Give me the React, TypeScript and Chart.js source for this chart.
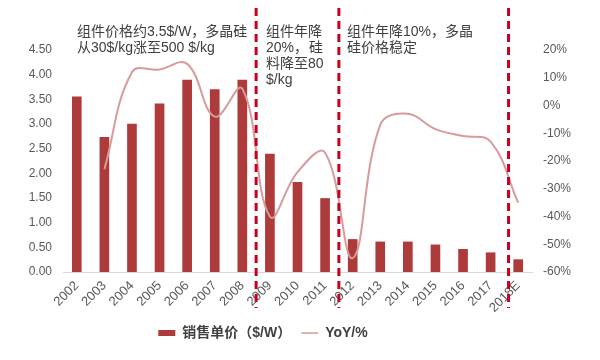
import React, { useEffect, useRef } from "react";
import { Chart, registerables } from "chart.js";

Chart.register(...registerables);

const categories = ["2002", "2003", "2004", "2005", "2006", "2007", "2008", "2009", "2010", "2011", "2012", "2013", "2014", "2015", "2016", "2017", "2018E"];
const priceValues = [3.55, 2.73, 3.0, 3.41, 3.89, 3.7, 3.89, 2.39, 1.82, 1.49, 0.66, 0.61, 0.61, 0.55, 0.46, 0.39, 0.25];
const yoyValues = [null, -23, 12, 13, 15, -4, 6, -40, -24, -17, -55, -7, -3, -8.5, -11, -13, -35];
const leftTicks = [0, 0.5, 1, 1.5, 2, 2.5, 3, 3.5, 4, 4.5];
const rightTicks = [-60, -50, -40, -30, -20, -10, 0, 10, 20];
const seriesNames = ["销售单价（$/W）", "YoY/%"];
const dividers = [6.5, 9.5, 15.65];
const notes = [
  { lines: ["组件价格约3.5$/W，多晶硅", "从30$/kg涨至500 $/kg"] },
  { lines: ["组件年降", "20%，", "料降至80", "$/kg"] },
  { lines: ["组件年降10%，多晶", "硅价格稳定"] },
];

const FONT = '"Liberation Sans", "Noto Sans CJK SC", sans-serif';

const overlayPlugin = {
  id: "overlay",
  afterLayout(chart: any) {
    if (chart.legend) {
      chart.legend.left -= 37;
      chart.legend.right -= 37;
    }
  },
  afterDraw(chart: any) {
    const ctx = chart.ctx;
    const xs = chart.scales.x;
    ctx.save();
    ctx.strokeStyle = "#c8001e";
    ctx.lineWidth = 3;
    ctx.setLineDash([8, 5]);
    dividers.forEach((d) => {
      const x = xs.getPixelForValue(d);
      ctx.beginPath();
      ctx.moveTo(x, 8);
      ctx.lineTo(x, 308);
      ctx.stroke();
    });
    ctx.setLineDash([]);
    ctx.fillStyle = "#404040";
    ctx.font = "14px " + FONT;
    ctx.textBaseline = "middle";
    ctx.textAlign = "left";
    const lh = 16;
    const top = 32;
    notes[0].lines.forEach((t, i) => ctx.fillText(t, 77, top + i * lh));
    notes[1].lines.forEach((t, i) => ctx.fillText(t, 266, top + i * lh));
    ctx.textAlign = "right";
    ctx.fillText("硅", 323, top + lh);
    ctx.textAlign = "left";
    notes[2].lines.forEach((t, i) => ctx.fillText(t, 347, top + i * lh));
    ctx.restore();
  },
};

export default function App() {
  const ref = useRef<HTMLCanvasElement>(null);
  useEffect(() => {
    if (!ref.current) return;
    const chart = new Chart(ref.current, {
      type: "bar",
      data: {
        labels: categories,
        datasets: [
          {
            type: "bar",
            label: seriesNames[0],
            data: priceValues,
            backgroundColor: "#ad3b3b",
            borderWidth: 0,
            barThickness: 9,
            yAxisID: "y",
            order: 2,
          } as any,
          {
            type: "line",
            label: seriesNames[1],
            data: yoyValues,
            borderColor: "#d89a9a",
            backgroundColor: "#d89a9a",
            borderWidth: 2,
            pointRadius: 0,
            tension: 0.4,
            spanGaps: true,
            yAxisID: "y1",
            order: 1,
          } as any,
        ],
      },
      options: {
        animation: false,
        responsive: false,
        layout: { padding: { top: 50, bottom: 10, left: 0, right: 0 } },
        plugins: {
          tooltip: { enabled: false },
          legend: {
            position: "bottom",
            labels: {
              usePointStyle: true,
              pointStyleWidth: 17,
              boxHeight: 6,
              padding: 10,
              color: "#404040",
              font: { family: FONT, size: 14, weight: "bold" },
              sort: (a: any, b: any) => a.datasetIndex - b.datasetIndex,
              generateLabels: (c: any) => {
                const items = Chart.defaults.plugins.legend.labels.generateLabels(c);
                return items.map((it: any) => ({
                  ...it,
                  pointStyle: it.datasetIndex === 0 ? "rect" : "line",
                  lineWidth: it.datasetIndex === 0 ? 0 : 1.5,
                }));
              },
            },
          },
        },
        scales: {
          x: {
            grid: { display: false, drawTicks: false },
            border: { display: true, color: "#d9d9d9" },
            ticks: {
              autoSkip: false,
              maxRotation: 45,
              minRotation: 45,
              padding: 6,
              color: "#595959",
              font: { family: FONT, size: 13 },
            },
            afterFit: (s: any) => {
              s.height = 44;
            },
          },
          y: {
            position: "left",
            min: 0,
            max: 4.5,
            grid: { display: false, drawTicks: false },
            border: { display: false },
            afterBuildTicks: (s: any) => {
              s.ticks = leftTicks.map((v) => ({ value: v }));
            },
            ticks: {
              padding: 11,
              color: "#595959",
              font: { family: FONT, size: 12 },
              callback: (v: any) => Number(v).toFixed(2),
            },
            afterFit: (s: any) => {
              s.width = 63;
            },
          },
          y1: {
            position: "right",
            min: -60,
            max: 20,
            grid: { display: false, drawTicks: false },
            border: { display: false },
            afterBuildTicks: (s: any) => {
              s.ticks = rightTicks.map((v) => ({ value: v }));
            },
            ticks: {
              padding: 11,
              color: "#595959",
              font: { family: FONT, size: 12 },
              callback: (v: any) => v + "%",
            },
            afterFit: (s: any) => {
              s.width = 68;
            },
          },
        },
      },
      plugins: [overlayPlugin],
    } as any);
    return () => chart.destroy();
  }, []);
  return (
    <div style={{ position: "fixed", left: 0, top: 0, width: 600, height: 360, background: "#fff" }}>
      <canvas ref={ref} width={600} height={360} />
    </div>
  );
}
